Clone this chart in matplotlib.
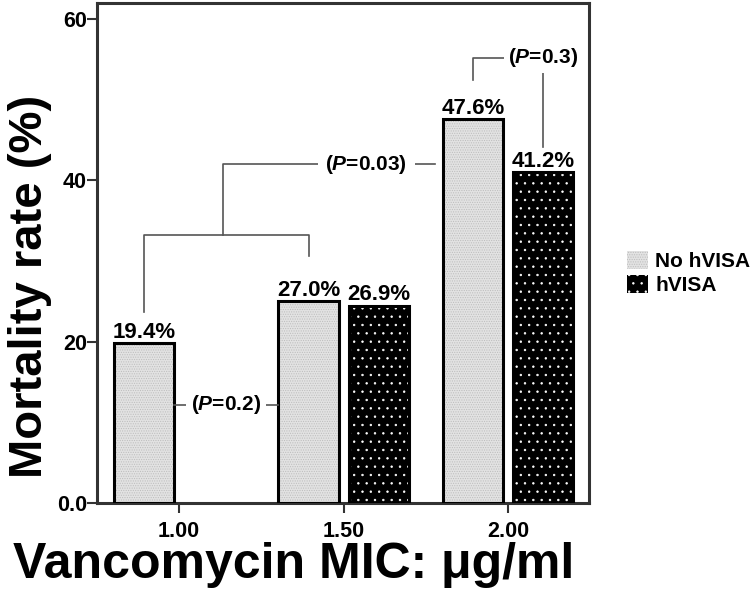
import numpy as np
import matplotlib.pyplot as plt
from matplotlib.patches import Patch

plt.rcParams['font.family'] = ['Liberation Sans', 'DejaVu Sans']
plt.rcParams['font.weight'] = 'bold'
plt.rcParams['mathtext.fontset'] = 'custom'
plt.rcParams['mathtext.rm'] = 'Liberation Sans:bold'
plt.rcParams['mathtext.it'] = 'Liberation Sans:italic:bold'
plt.rcParams['hatch.linewidth'] = 0.5

# data
mic_labels = ['1.00', '1.50', '2.00']
series = ['No hVISA', 'hVISA']
no_hvisa = [19.8, 25.0, 47.6]          # bar heights as drawn
hvisa = [None, 24.5, 41.0]
no_hvisa_text = ['19.4%', '27.0%', '47.6%']
hvisa_text = [None, '26.9%', '41.2%']
p_values = ['0.2', '0.03', '0.3']

fig = plt.figure(figsize=(7.5, 5.92), dpi=100)
ax = fig.add_axes([0.129, 0.150, 0.656, 0.845])

x = np.arange(len(mic_labels))
w = 0.365
off = 0.213
xn = x - off
xh = x + off

light = dict(facecolor='#e2e2e2', hatch='.......', hcol='#bdbdbd')
dark = dict(facecolor='black', hatch='..', hcol='white')


def draw_bars(xs, heights, style):
    xs = [a for a, h in zip(xs, heights) if h is not None]
    hs = [h for h in heights if h is not None]
    ax.bar(xs, hs, w, color=style['facecolor'], edgecolor=style['hcol'],
           hatch=style['hatch'], linewidth=0, zorder=2)
    ax.bar(xs, hs, w, facecolor='none', edgecolor='black', linewidth=2.2, zorder=3)


draw_bars(xn, no_hvisa, light)
draw_bars(xh, hvisa, dark)

# value labels
for xs, hs, ts in [(xn, no_hvisa, no_hvisa_text), (xh, hvisa, hvisa_text)]:
    for a, h, t in zip(xs, hs, ts):
        if h is None:
            continue
        ax.annotate(t, (a, h), xytext=(0, 4), textcoords='offset points',
                    ha='center', va='baseline', fontsize=16, fontweight='bold')

lc = '#555555'
lw = 1.2


def ptext(xp, yp, p, pad=4):
    ax.text(xp, yp, '($\\mathit{P}$=' + p + ')', ha='center', va='center',
            fontsize=15, fontweight='bold', zorder=5,
            bbox=dict(facecolor='white', edgecolor='none', pad=pad))


# P=0.2 : No hVISA 1.00 vs 1.50
y1 = 12.2
ax.plot([xn[0] + w / 2, xn[1] - w / 2], [y1, y1], color=lc, lw=lw, zorder=4)
ptext((xn[0] + xn[1]) / 2, y1, p_values[0], pad=3.5)

# P=0.03 : (1.00 + 1.50) vs 2.00
ylow, yjoin, ytop = 23.7, 33.3, 42.0
mid = (xn[0] + xn[1]) / 2 - 0.02
ax.plot([xn[0], xn[0], xn[1], xn[1]], [ylow, yjoin, yjoin, 30.6], color=lc, lw=lw, zorder=4)
ax.plot([mid, mid, xn[2] - w / 2 - 0.05], [yjoin, ytop, ytop], color=lc, lw=lw, zorder=4)
ptext(1.137, ytop, p_values[1], pad=5.5)

# P=0.3 : No hVISA vs hVISA at 2.00
yp = 55.2
ax.plot([xn[2], xn[2], xh[2], xh[2]], [52.5, yp, yp, 44.1], color=lc, lw=lw, zorder=4)
ptext(xh[2], yp, p_values[2], pad=3)

ax.set_xlim(-0.5, 2.49)
ax.set_ylim(0, 62)
ax.set_xticks(x)
ax.set_xticklabels(mic_labels)
ax.set_yticks([0, 20, 40, 60])
ax.set_yticklabels(['0.0', '20', '40', '60'])
ax.tick_params(axis='both', direction='out', length=7, width=1.5, color='#333333',
               labelsize=15.5)
ax.tick_params(axis='y', pad=0)
ax.tick_params(axis='x', pad=6)
for lab in ax.get_xticklabels() + ax.get_yticklabels():
    lab.set_fontweight('bold')
for s in ax.spines.values():
    s.set_color('#333333')
    s.set_linewidth(2.2)

fig.text(0.040, 0.517, 'Mortality rate (%)', rotation=90, ha='center', va='center',
         fontsize=34, fontweight='bold')
fig.text(0.392, 0.024, 'Vancomycin MIC: \u03bcg/ml', ha='center', va='baseline',
         fontsize=36, fontweight='bold')

handles = [Patch(facecolor=light['facecolor'], edgecolor=light['hcol'], hatch=light['hatch'], lw=0),
           Patch(facecolor=dark['facecolor'], edgecolor=dark['hcol'], hatch=dark['hatch'], lw=0)]
fig.legend(handles, series, loc='center left', bbox_to_anchor=(0.822, 0.539),
           frameon=False, borderpad=0, handlelength=1.0, handleheight=0.95,
           handletextpad=0.35, labelspacing=0.2,
           prop=dict(family='Liberation Sans', weight='bold', size=15))

fig.savefig('out.png', dpi=100)
